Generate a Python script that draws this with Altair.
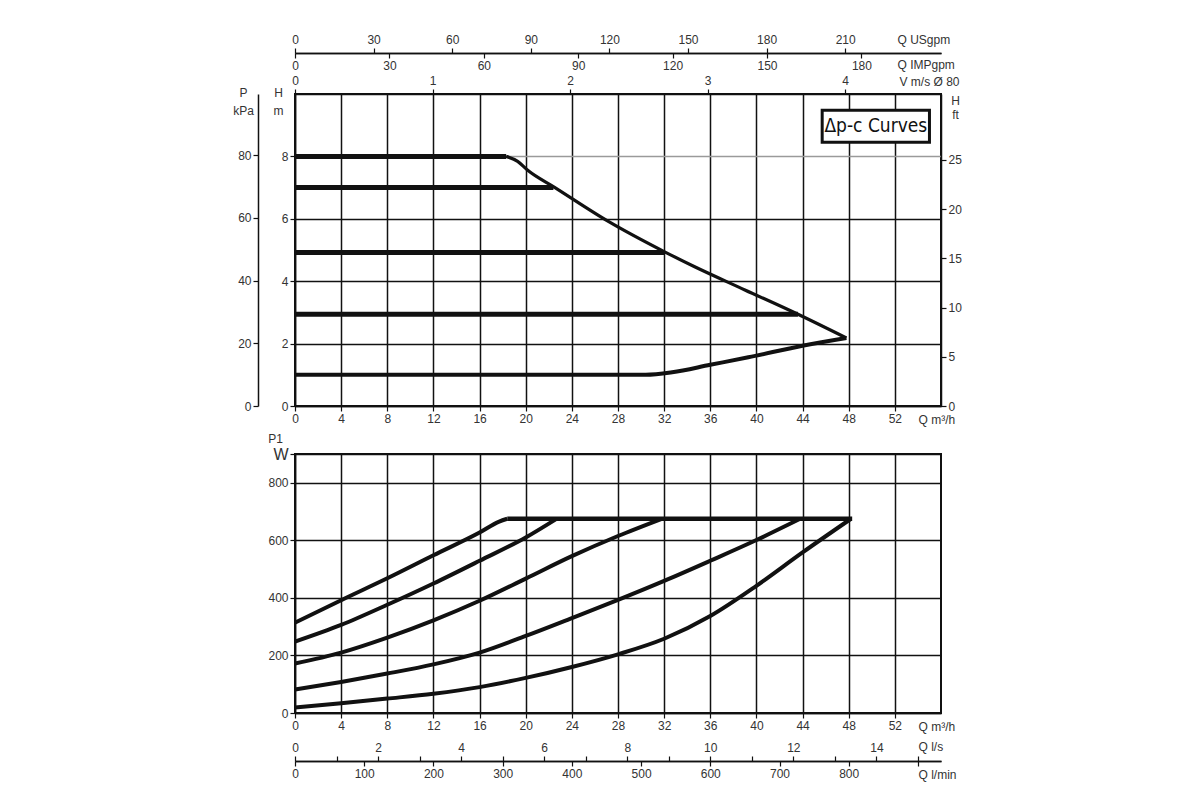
import altair as alt
import pandas as pd

# upper panel: head H [m] over flow Q [m3/h], delta-p-c curves
flat_names = ["8 m", "7 m", "5 m", "3 m"]
flat_h = [8.0, 7.0, 4.92, 2.94]
flat_end_q = [18.3, 22.4, 32.0, 43.6]

max_q = [18.3, 19.3, 20.2, 22.5, 27.2, 32.0, 34.6, 39.0, 43.6, 47.8]
max_h = [8.0, 7.84, 7.55, 7.01, 5.91, 4.95, 4.47, 3.72, 2.94, 2.18]

min_q = [0, 30.4, 32.7, 36.0, 39.3, 44.1, 47.8]
min_h = [1.0, 1.0, 1.08, 1.32, 1.56, 1.94, 2.18]

# lower panel: power input P1 [W]
p1_names = ["8 m", "7 m", "5 m", "3 m", "min"]
p1_q = [
    [0, 4, 8, 12, 16, 17.7, 18.4],
    [0, 4, 8, 12, 16, 20, 22.6],
    [0, 4, 8, 12, 16, 20, 24, 28, 31.8],
    [0, 4, 8, 12, 16, 20, 24, 28, 32, 36, 40, 43.8],
    [0, 4, 8, 12, 16, 20, 24, 28, 32, 36, 40, 44, 48.2],
]
p1_w = [
    [314, 392, 468, 548, 627, 665, 675],
    [248, 306, 376, 450, 529, 610, 673],
    [172, 210, 262, 322, 390, 467, 545, 615, 675],
    [82, 108, 137, 169, 210, 268, 330, 393, 459, 529, 601, 675],
    [19, 34, 50, 67, 90, 122, 160, 204, 258, 337, 442, 558, 675],
]
cap_q = [18.4, 48.3]
cap_w = [675, 675]

# legend box
box_text = "Δp-c Curves"
box_q = [45.7, 55.0]
box_h = [8.45, 9.48]

# axis ticks
q_ticks = list(range(0, 53, 4))
h_ticks = [0, 2, 4, 6, 8]
kpa_ticks = [0, 20, 40, 60, 80]
ft_ticks = [0, 5, 10, 15, 20, 25]
usgpm_ticks = [0, 30, 60, 90, 120, 150, 180, 210]
impgpm_ticks = [0, 30, 60, 90, 120, 150, 180]
vel_ticks = [0, 1, 2, 3, 4]
p1_ticks = [0, 200, 400, 600, 800, 900]
ls_ticks = list(range(0, 16))
lmin_ticks = list(range(0, 901, 100))

# unit conversions as drawn on the sheet
Q_MAX = 56
H_MAX = 10
P_MAX = 900
KPA_PER_M = 9.95
FT_PER_M = 3.17
USGPM_PER_M3H = 4.403
IMPGPM_PER_M3H = 3.666
M3H_PER_MS = 11.92
LS_PER_M3H = 1 / 3.6
LMIN_PER_M3H = 1000 / 60

W_PLOT = 646
H_UP = 312
H_LOW = 259
GAP = 48

FONT = "Liberation Sans"
INK = "#111111"
GREY = "#333333"


def long_table(names, qs, vs, col):
    rows = []
    for name, q_list, v_list in zip(names, qs, vs):
        for i, (q, v) in enumerate(zip(q_list, v_list)):
            rows.append({"series": name, "i": i, "q": q, col: v})
    return pd.DataFrame(rows)


def x_axis_layer(ticks, top, y_top, **ax):
    # invisible points carrying one extra horizontal axis
    df = pd.DataFrame({"v": ticks, "z": [0] * len(ticks)})
    return alt.Chart(df).mark_point(opacity=0).encode(
        x=alt.X("v:Q", scale=alt.Scale(domain=[0, top], nice=False),
                axis=alt.Axis(values=ticks, **ax)),
        y=alt.Y("z:Q", scale=alt.Scale(domain=[0, y_top], nice=False), axis=None),
    )


def y_axis_layer(ticks, top, **ax):
    # invisible points carrying one extra vertical axis
    df = pd.DataFrame({"v": ticks, "z": [0] * len(ticks)})
    return alt.Chart(df).mark_point(opacity=0).encode(
        x=alt.X("z:Q", scale=alt.Scale(domain=[0, Q_MAX], nice=False), axis=None),
        y=alt.Y("v:Q", scale=alt.Scale(domain=[0, top], nice=False),
                axis=alt.Axis(values=ticks, titleAngle=0, **ax)),
    )


# ---------- upper panel ----------
flat_df = long_table(flat_names, [[0, e] for e in flat_end_q], [[h, h] for h in flat_h], "h")
min_df = long_table(["min"], [min_q], [min_h], "h")
max_df = long_table(["max"], [max_q], [max_h], "h")

q_scale = alt.Scale(domain=[0, Q_MAX], nice=False)
h_scale = alt.Scale(domain=[0, H_MAX], nice=False)
x_q = alt.X("q:Q", scale=q_scale,
            axis=alt.Axis(values=q_ticks, grid=True, title="Q m³/h",
                          titleX=623, titleY=13))
y_h = alt.Y("h:Q", scale=h_scale,
            axis=alt.Axis(values=h_ticks, grid=True,
                          gridColor={"condition": {"test": "datum.value == 8", "value": "#9a9a9a"},
                                     "value": INK},
                          title=["H", "m"], titleAngle=0, titleX=-17, titleY=-7,
                          titleAlign="center", titleBaseline="top", titleLineHeight=18))
# same mapping, no second axis
x_q_plain = alt.X("q:Q", scale=q_scale, axis=None)
y_h_plain = alt.Y("h:Q", scale=h_scale, axis=None)

head_flat = alt.Chart(flat_df).mark_line(color=INK, strokeWidth=5).encode(
    x=x_q, y=y_h, detail="series:N", order="i:Q")
head_min = alt.Chart(min_df).mark_line(color=INK, strokeWidth=4, interpolate="monotone").encode(
    x=x_q_plain, y=y_h_plain, detail="series:N", order="i:Q")
head_max = alt.Chart(max_df).mark_line(color=INK, strokeWidth=3.2, interpolate="monotone").encode(
    x=x_q_plain, y=y_h_plain, detail="series:N", order="i:Q")

box_df = pd.DataFrame({"q": [box_q[0]], "q2": [box_q[1]], "h": [box_h[0]], "h2": [box_h[1]]})
box = alt.Chart(box_df).mark_rect(fill="white", stroke=INK, strokeWidth=3).encode(
    x=x_q_plain, x2="q2", y=y_h_plain, y2="h2")
label_df = pd.DataFrame({"q": [sum(box_q) / 2], "h": [sum(box_h) / 2]})
label = alt.Chart(label_df).mark_text(
    text=box_text, font="Liberation Sans Narrow, DejaVu Sans Condensed",
    fontSize=19, color=INK).encode(x=x_q_plain, y=y_h_plain)

upper = alt.layer(
    head_flat, head_min, head_max, box, label,
    y_axis_layer(kpa_ticks, H_MAX * KPA_PER_M, orient="left", offset=37,
                 title=["P", "kPa"], titleX=-15, titleY=-7, titleAlign="center",
                 titleBaseline="top", titleLineHeight=18),
    y_axis_layer(ft_ticks, H_MAX * FT_PER_M, orient="right",
                 title=["H", "ft"], titleX=14, titleY=1, titleAlign="center",
                 titleBaseline="top", titleLineHeight=14),
    x_axis_layer(usgpm_ticks, Q_MAX * USGPM_PER_M3H, H_MAX, orient="top", offset=41,
                 title="Q USgpm", titleX=602, titleY=-14),
    x_axis_layer(impgpm_ticks, Q_MAX * IMPGPM_PER_M3H, H_MAX, orient="bottom", offset=-(H_UP + 41),
                 title="Q IMPgpm", titleX=602, titleY=11),
    x_axis_layer(vel_ticks, Q_MAX / M3H_PER_MS, H_MAX, orient="top",
                 title="V m/s Ø 80", titleX=604, titleY=-13),
).resolve_scale(x="independent", y="independent").properties(width=W_PLOT, height=H_UP)

# ---------- lower panel ----------
curves_df = long_table(p1_names, p1_q, p1_w, "w")
cap_df = long_table(["cap"], [cap_q], [cap_w], "w")

w_scale = alt.Scale(domain=[0, P_MAX], nice=False)
x_q2 = alt.X("q:Q", scale=q_scale,
             axis=alt.Axis(values=q_ticks, grid=True, title="Q m³/h",
                           titleX=623, titleY=13))
y_w = alt.Y("w:Q", scale=w_scale,
            axis=alt.Axis(values=p1_ticks, grid=True,
                          labelExpr="datum.value == 900 ? 'W' : datum.label",
                          labelFontSize={"condition": {"test": "datum.value == 900", "value": 16},
                                         "value": 12},
                          title="P1", titleAngle=0, titleX=-20, titleY=-21,
                          titleAlign="center", titleBaseline="top"))

power = alt.Chart(curves_df).mark_line(color=INK, strokeWidth=4, interpolate="monotone").encode(
    x=x_q2, y=y_w, detail="series:N", order="i:Q")
cap = alt.Chart(cap_df).mark_line(color=INK, strokeWidth=4.5).encode(
    x=alt.X("q:Q", scale=q_scale, axis=None), y=alt.Y("w:Q", scale=w_scale, axis=None),
    detail="series:N", order="i:Q")

lower = alt.layer(
    power, cap,
    x_axis_layer(ls_ticks, Q_MAX * LS_PER_M3H, P_MAX, orient="top", offset=-(H_LOW + GAP),
                 labelExpr="datum.value % 2 == 0 ? datum.label : ''",
                 title="Q l/s", titleX=623, titleY=-15),
    x_axis_layer(lmin_ticks, Q_MAX * LMIN_PER_M3H, P_MAX, orient="bottom", offset=GAP,
                 labelExpr="datum.value == 900 ? '' : datum.label",
                 title="Q l/min", titleX=623, titleY=13),
).resolve_scale(x="independent", y="independent").properties(width=W_PLOT, height=H_LOW)

chart = alt.vconcat(upper, lower, spacing=GAP, bounds="flush").properties(
    padding={"left": 223, "top": 24, "right": 20, "bottom": 10},
    background="white",
).configure_view(
    stroke=INK, strokeWidth=2
).configure_axis(
    labelFont=FONT, labelFontSize=12, labelColor=GREY, labelFlush=False, labelOverlap=False,
    titleFont=FONT, titleFontSize=12, titleFontWeight="normal", titleColor=GREY,
    titleAngle=0, titleAlign="left", titleBaseline="middle",
    domainColor=INK, domainWidth=1.5, tickColor=INK, tickWidth=1.2, tickSize=5,
    grid=False, gridColor=INK, gridWidth=1.5, gridOpacity=1,
)

chart.save("out.html", embed_options={"renderer": "svg", "actions": False})
